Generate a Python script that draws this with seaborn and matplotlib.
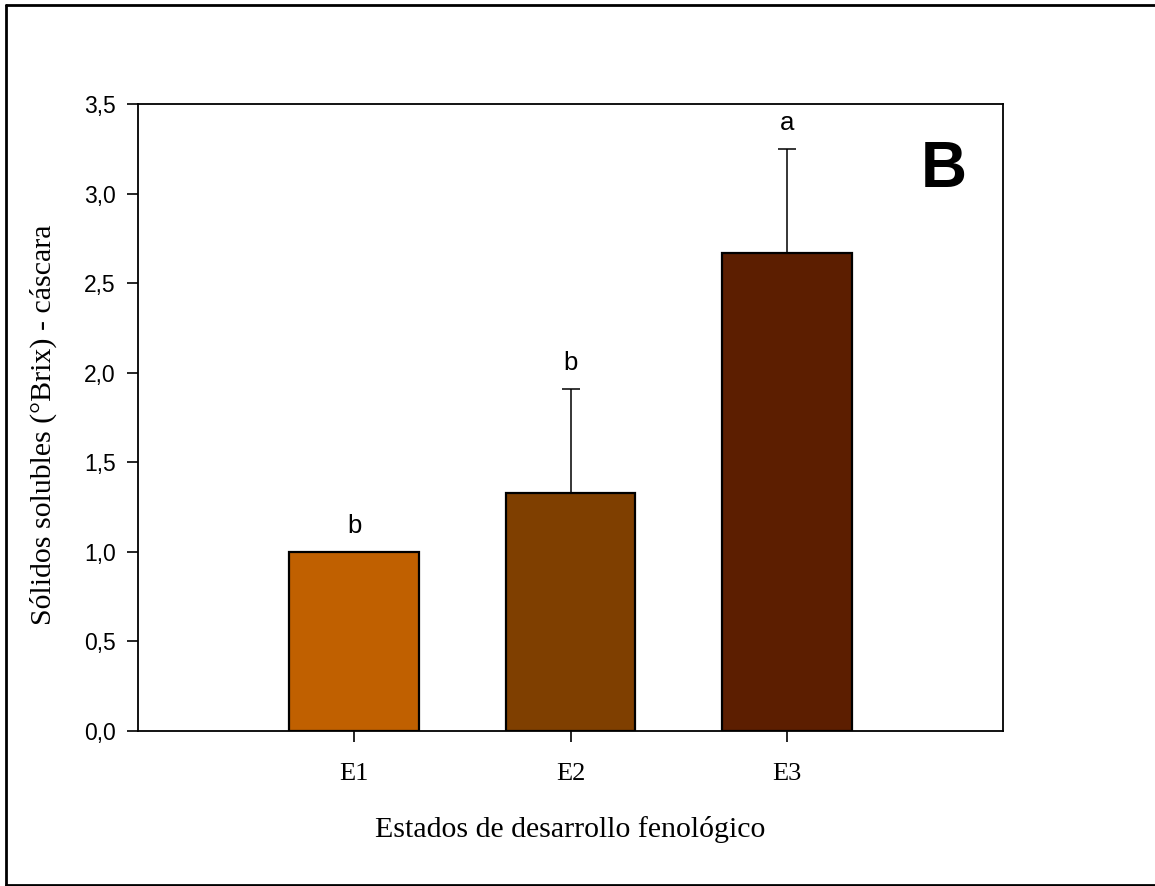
import matplotlib
matplotlib.use("Agg")
import matplotlib.pyplot as plt
import seaborn as sns
import pandas as pd
from matplotlib.lines import Line2D

categories = ["E1", "E2", "E3"]
means = [1.00, 1.33, 2.67]
errors = [0.0, 0.58, 0.58]
letters = ["b", "b", "a"]
colors = ["#C06000", "#7F3F00", "#5C1E00"]
y_ticks = [0.0, 0.5, 1.0, 1.5, 2.0, 2.5, 3.0, 3.5]
y_ticklabels = ["0,0", "0,5", "1,0", "1,5", "2,0", "2,5", "3,0", "3,5"]

sns.set_style("white")
plt.rcParams['font.family'] = ['Liberation Sans', 'DejaVu Sans']
plt.rcParams['text.color'] = 'black'
plt.rcParams['xtick.color'] = 'black'
plt.rcParams['ytick.color'] = 'black'
plt.rcParams['axes.labelcolor'] = 'black'

df = pd.DataFrame({"estado": categories, "valor": means})

fig = plt.figure(figsize=(11.55, 8.86), dpi=100)
ax = fig.add_axes([0.1195, 0.1749, 0.8684 - 0.1195, 0.8826 - 0.1749])

sns.barplot(data=df, x="estado", y="valor", hue="estado", palette=colors,
            order=categories, hue_order=categories, width=0.6, errorbar=None,
            edgecolor="black", linewidth=1.6, legend=False, ax=ax, saturation=1)

xs = list(range(len(categories)))
ax.errorbar(xs, means, yerr=[[0] * 3, errors], fmt="none", ecolor="black",
            elinewidth=1.1, capsize=6.5, capthick=1.1, zorder=1)

for x, m, e, l in zip(xs, means, errors, letters):
    ax.annotate(l, xy=(x, m + e), xytext=(0, 10), textcoords="offset points",
                ha="center", va="bottom", fontsize=18.5, color="black")

ax.set_xlim(-1, 3)
ax.set_ylim(0, 3.5)
ax.set_yticks(y_ticks)
ax.set_yticklabels(y_ticklabels, fontsize=16.5)
ax.set_xticks(xs)
ax.set_xticklabels(categories, fontsize=19, family=['Liberation Serif'])

ax.tick_params(axis="both", direction="out", length=8, width=1.2, color="black",
               left=True, bottom=True)
ax.tick_params(axis="y", pad=8)
ax.tick_params(axis="x", pad=15)

for s in ax.spines.values():
    s.set_visible(True)
    s.set_color("black")
    s.set_linewidth(1.3)

ax.set_xlabel("Estados de desarrollo fenológico", fontsize=21.5,
              family=['Liberation Serif'], labelpad=22)
ax.set_ylabel("Sólidos solubles (°Brix) - cáscara", fontsize=21.5,
              family=['Liberation Serif'])
ax.yaxis.set_label_coords(-0.094, 0.489)

ax.text(0.932, 0.895, "B", transform=ax.transAxes, fontsize=46,
        fontweight="bold", ha="center", va="center", color="black")

# figure border
for xd, yd in [([0.005, 0.005], [0.0015, 0.9945]),
               ([0.005, 1.0], [0.9945, 0.9945]),
               ([0.005, 1.0], [0.0015, 0.0015])]:
    fig.add_artist(Line2D(xd, yd, transform=fig.transFigure, color="black", lw=2))

fig.savefig("out.png", dpi=100, facecolor="white")
